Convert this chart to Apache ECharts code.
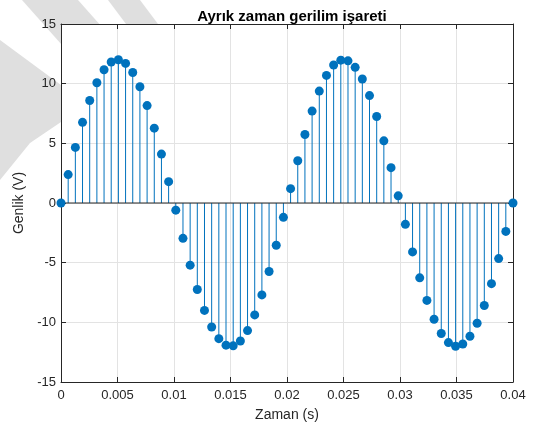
<!DOCTYPE html>
<html>
<head>
<meta charset="utf-8">
<script src="https://cdn.jsdelivr.net/npm/echarts@6/dist/echarts.min.js"></script>
<style>
  html, body { margin: 0; padding: 0; background: #fff; }
  #chart { width: 535px; height: 430px; }
</style>
</head>
<body>
<div id="chart"></div>
<script>
// zaman örnekleri (s)
const zaman = [
  0, 0.000635, 0.001270, 0.001905, 0.002540, 0.003175, 0.003810, 0.004444,
  0.005079, 0.005714, 0.006349, 0.006984, 0.007619, 0.008254, 0.008889, 0.009524,
  0.010159, 0.010794, 0.011429, 0.012063, 0.012698, 0.013333, 0.013968, 0.014603,
  0.015238, 0.015873, 0.016508, 0.017143, 0.017778, 0.018413, 0.019048, 0.019683,
  0.020317, 0.020952, 0.021587, 0.022222, 0.022857, 0.023492, 0.024127, 0.024762,
  0.025397, 0.026032, 0.026667, 0.027302, 0.027937, 0.028571, 0.029206, 0.029841,
  0.030476, 0.031111, 0.031746, 0.032381, 0.033016, 0.033651, 0.034286, 0.034921,
  0.035556, 0.036190, 0.036825, 0.037460, 0.038095, 0.038730, 0.039365, 0.040000
];
// genlik değerleri (V)
const genlik = [
  0, 2.38, 4.66, 6.76, 8.59, 10.08, 11.17, 11.82,
  12.00, 11.70, 10.94, 9.74, 8.16, 6.27, 4.10, 1.79,
  -0.60, -2.96, -5.21, -7.25, -9.00, -10.39, -11.37, -11.91,
  -11.97, -11.56, -10.69, -9.38, -7.70, -5.74, -3.54, -1.20,
  1.20, 3.54, 5.74, 7.70, 9.38, 10.69, 11.56, 11.97,
  11.91, 11.37, 10.39, 9.00, 7.25, 5.21, 2.96, 0.60,
  -1.79, -4.10, -6.27, -8.16, -9.74, -10.94, -11.70, -12.00,
  -11.82, -11.17, -10.08, -8.59, -6.76, -4.66, -2.38, 0
];
const baseline = [[0, 0], [0.04, 0]];

const axisColor = '#262626';
const stemColor = '#0072BD';
const font = 'Liberation Sans, Arial, Helvetica, sans-serif';

const chart = echarts.init(document.getElementById('chart'));
const points = zaman.map((t, i) => [t, genlik[i]]);

function xAxisCfg(pos, main) {
  return {
    type: 'value', min: 0, max: 0.04, interval: 0.005, position: pos,
    name: main ? 'Zaman (s)' : '', nameLocation: 'middle', nameGap: 26,
    nameTextStyle: { color: axisColor, fontSize: 14, fontFamily: font },
    axisLine: { show: true, onZero: false, lineStyle: { color: axisColor, width: 1 } },
    axisTick: { show: true, inside: true, length: 5, lineStyle: { color: axisColor } },
    axisLabel: { show: main, color: axisColor, fontSize: 13, fontFamily: font, margin: 7 },
    splitLine: { show: main, lineStyle: { color: '#e3e3e3', width: 1 } }
  };
}
function yAxisCfg(pos, main) {
  return {
    type: 'value', min: -15, max: 15, interval: 5, position: pos,
    name: main ? 'Genlik (V)' : '', nameLocation: 'middle', nameGap: 30,
    nameTextStyle: { color: axisColor, fontSize: 14, fontFamily: font },
    axisLine: { show: true, onZero: false, lineStyle: { color: axisColor, width: 1 } },
    axisTick: { show: true, inside: true, length: 5, lineStyle: { color: axisColor } },
    axisLabel: { show: main, color: axisColor, fontSize: 13, fontFamily: font, margin: 5 },
    splitLine: { show: main, lineStyle: { color: '#e3e3e3', width: 1 } }
  };
}

chart.setOption({
  backgroundColor: '#fff',
  animation: false,
  title: {
    text: 'Ayrık zaman gerilim işareti',
    left: 287, top: 4, textAlign: 'center',
    textStyle: { color: '#000', fontSize: 15, fontWeight: 'bold', fontFamily: font }
  },
  graphic: [
    { type: 'polygon', z: -10, shape: { points: [[22, 0], [78, 0], [300, 250], [244, 250]] }, style: { fill: '#dfdfdf' } },
    { type: 'polygon', z: -10, shape: { points: [[108, 0], [140, 0], [170, 40], [138, 40]] }, style: { fill: '#dfdfdf' } },
    { type: 'polygon', z: -10, shape: { points: [[0, 40], [61, 85], [61, 122], [30, 143], [0, 180]] }, style: { fill: '#dfdfdf' } }
  ],
  grid: { left: 61, right: 22, top: 24, bottom: 48, show: true, backgroundColor: '#fff', borderWidth: 0 },
  xAxis: [xAxisCfg('bottom', true), xAxisCfg('top', false)],
  yAxis: [yAxisCfg('left', true), yAxisCfg('right', false)],
  series: [
    {
      type: 'custom',
      data: points,
      z: 2,
      silent: true,
      renderItem: (params, api) => {
        const tip = api.coord([api.value(0), api.value(1)]);
        const base = api.coord([api.value(0), 0]);
        return {
          type: 'line',
          shape: { x1: base[0], y1: base[1], x2: tip[0], y2: tip[1] },
          style: { stroke: stemColor, lineWidth: 1 }
        };
      }
    },
    {
      type: 'line',
      data: baseline,
      z: 3,
      showSymbol: false,
      silent: true,
      lineStyle: { color: axisColor, width: 1 }
    },
    {
      type: 'scatter',
      data: points,
      z: 4,
      symbol: 'circle',
      symbolSize: 9,
      itemStyle: { color: stemColor, opacity: 1 }
    }
  ]
});
</script>
</body>
</html>
